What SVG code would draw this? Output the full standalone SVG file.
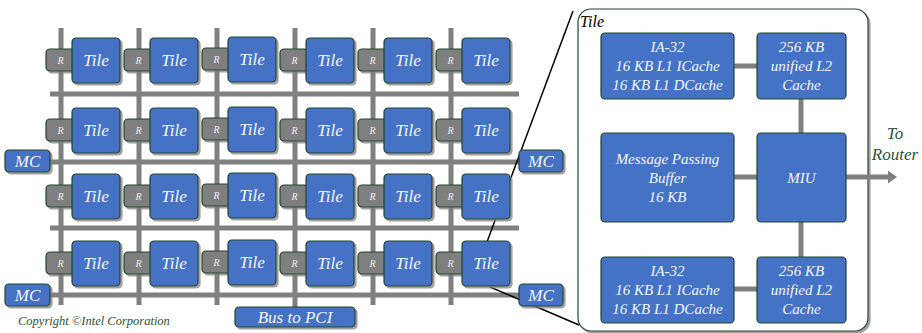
<svg xmlns="http://www.w3.org/2000/svg" width="922" height="333" viewBox="0 0 922 333" font-family="'Liberation Serif', 'Times New Roman', serif">
  <defs>
    <filter id="shadow" x="-15%" y="-15%" width="140%" height="140%">
      <feDropShadow dx="2" dy="2" stdDeviation="0.7" flood-color="#808080" flood-opacity="0.75"/>
    </filter>
    <marker id="arrowhead" markerUnits="userSpaceOnUse" markerWidth="10" markerHeight="14" refX="0" refY="6.5" orient="auto">
      <path d="M0,0 L9,6.5 L0,13 Z" fill="#808080"/>
    </marker>
  </defs>
  <style>
    .blue { fill: #4472c4; stroke: #22462e; stroke-width: 1.2; }
    .router { fill: #7f7f7f; stroke: #22462e; stroke-width: 1.2; }
    .shadowed { filter: url(#shadow); }
    .bar { stroke: #808080; stroke-width: 5; fill: none; }
    .zoom { stroke: #000; stroke-width: 1.5; fill: none; }
    .serif { font-family: "Liberation Serif", "Times New Roman", serif; font-style: italic; }
    .tl { font-size: 17px; fill: #f6f6f6; text-anchor: middle; }
    .rl { font-size: 10px; fill: #eeeeee; text-anchor: middle; }
    .bl { font-size: 15px; fill: #f6f6f6; text-anchor: middle; }
    .green { fill: #2c5237; }
  </style>

  <!-- detail panel of one tile -->
  <g id="tile-detail">
    <rect x="578" y="9" width="290" height="322" rx="13" fill="#fff" stroke="#22462e" stroke-width="1.2" class="shadowed"/>
    <text x="580" y="27" class="serif" font-size="16" fill="#000">Tile</text>
  </g>

  <!-- mesh buses, zoom lines and tile-internal links -->
  <g id="connectors">
    <g id="mesh-vertical">
      <line class="bar" x1="61" y1="28" x2="61" y2="305"/>
      <line class="bar" x1="139" y1="28" x2="139" y2="305"/>
      <line class="bar" x1="217" y1="28" x2="217" y2="305"/>
      <line class="bar" x1="295" y1="28" x2="295" y2="308"/>
      <line class="bar" x1="373" y1="28" x2="373" y2="305"/>
      <line class="bar" x1="451" y1="28" x2="451" y2="305"/>
    </g>
    <g id="mesh-horizontal">
      <line class="bar" x1="50" y1="94" x2="519" y2="94"/>
      <line class="bar" x1="50" y1="162" x2="520" y2="162"/>
      <line class="bar" x1="50" y1="228" x2="519" y2="228"/>
      <line class="bar" x1="50" y1="295" x2="520" y2="295"/>
    </g>
    <g id="zoom-lines">
      <line class="zoom" x1="573" y1="11" x2="487" y2="242"/>
      <line class="zoom" x1="490" y1="287" x2="579" y2="325"/>
    </g>
    <g id="tile-links">
      <line class="bar" x1="734" y1="66" x2="757" y2="66"/>
      <line class="bar" x1="801" y1="99" x2="801" y2="133"/>
      <line class="bar" x1="734" y1="177" x2="757" y2="177"/>
      <line class="bar" x1="801" y1="222" x2="801" y2="257"/>
      <line class="bar" x1="734" y1="289" x2="757" y2="289"/>
      <line class="bar" x1="846" y1="177" x2="888" y2="177" marker-end="url(#arrowhead)"/>
    </g>
  </g>

  <!-- mesh cells: router + tile -->
  <g id="mesh" class="serif">
    <!-- row 1 -->
    <g id="cell-1-1" transform="translate(46,38)"><g id="router-1-1"><rect class="router shadowed" x="0" y="11" width="29" height="22" rx="4"/><text class="rl" x="14.5" y="26">R</text></g><g id="tile-1-1"><rect class="blue shadowed" x="26" y="0" width="48" height="45" rx="4"/><text class="tl" x="50" y="28">Tile</text></g></g>
    <g id="cell-1-2" transform="translate(124,38)"><g id="router-1-2"><rect class="router shadowed" x="0" y="11" width="29" height="22" rx="4"/><text class="rl" x="14.5" y="26">R</text></g><g id="tile-1-2"><rect class="blue shadowed" x="26" y="0" width="48" height="45" rx="4"/><text class="tl" x="50" y="28">Tile</text></g></g>
    <g id="cell-1-3" transform="translate(202,37)"><g id="router-1-3"><rect class="router shadowed" x="0" y="11" width="29" height="22" rx="4"/><text class="rl" x="14.5" y="26">R</text></g><g id="tile-1-3"><rect class="blue shadowed" x="26" y="0" width="48" height="45" rx="4"/><text class="tl" x="50" y="28">Tile</text></g></g>
    <g id="cell-1-4" transform="translate(280,38)"><g id="router-1-4"><rect class="router shadowed" x="0" y="11" width="29" height="22" rx="4"/><text class="rl" x="14.5" y="26">R</text></g><g id="tile-1-4"><rect class="blue shadowed" x="26" y="0" width="48" height="45" rx="4"/><text class="tl" x="50" y="28">Tile</text></g></g>
    <g id="cell-1-5" transform="translate(358,38)"><g id="router-1-5"><rect class="router shadowed" x="0" y="11" width="29" height="22" rx="4"/><text class="rl" x="14.5" y="26">R</text></g><g id="tile-1-5"><rect class="blue shadowed" x="26" y="0" width="48" height="45" rx="4"/><text class="tl" x="50" y="28">Tile</text></g></g>
    <g id="cell-1-6" transform="translate(436,38)"><g id="router-1-6"><rect class="router shadowed" x="0" y="11" width="29" height="22" rx="4"/><text class="rl" x="14.5" y="26">R</text></g><g id="tile-1-6"><rect class="blue shadowed" x="26" y="0" width="48" height="45" rx="4"/><text class="tl" x="50" y="28">Tile</text></g></g>
    <!-- row 2 -->
    <g id="cell-2-1" transform="translate(46,108)"><g id="router-2-1"><rect class="router shadowed" x="0" y="11" width="29" height="22" rx="4"/><text class="rl" x="14.5" y="26">R</text></g><g id="tile-2-1"><rect class="blue shadowed" x="26" y="0" width="48" height="45" rx="4"/><text class="tl" x="50" y="28">Tile</text></g></g>
    <g id="cell-2-2" transform="translate(124,108)"><g id="router-2-2"><rect class="router shadowed" x="0" y="11" width="29" height="22" rx="4"/><text class="rl" x="14.5" y="26">R</text></g><g id="tile-2-2"><rect class="blue shadowed" x="26" y="0" width="48" height="45" rx="4"/><text class="tl" x="50" y="28">Tile</text></g></g>
    <g id="cell-2-3" transform="translate(202,107)"><g id="router-2-3"><rect class="router shadowed" x="0" y="11" width="29" height="22" rx="4"/><text class="rl" x="14.5" y="26">R</text></g><g id="tile-2-3"><rect class="blue shadowed" x="26" y="0" width="48" height="45" rx="4"/><text class="tl" x="50" y="28">Tile</text></g></g>
    <g id="cell-2-4" transform="translate(280,108)"><g id="router-2-4"><rect class="router shadowed" x="0" y="11" width="29" height="22" rx="4"/><text class="rl" x="14.5" y="26">R</text></g><g id="tile-2-4"><rect class="blue shadowed" x="26" y="0" width="48" height="45" rx="4"/><text class="tl" x="50" y="28">Tile</text></g></g>
    <g id="cell-2-5" transform="translate(358,108)"><g id="router-2-5"><rect class="router shadowed" x="0" y="11" width="29" height="22" rx="4"/><text class="rl" x="14.5" y="26">R</text></g><g id="tile-2-5"><rect class="blue shadowed" x="26" y="0" width="48" height="45" rx="4"/><text class="tl" x="50" y="28">Tile</text></g></g>
    <g id="cell-2-6" transform="translate(436,108)"><g id="router-2-6"><rect class="router shadowed" x="0" y="11" width="29" height="22" rx="4"/><text class="rl" x="14.5" y="26">R</text></g><g id="tile-2-6"><rect class="blue shadowed" x="26" y="0" width="48" height="45" rx="4"/><text class="tl" x="50" y="28">Tile</text></g></g>
    <!-- row 3 -->
    <g id="cell-3-1" transform="translate(46,174)"><g id="router-3-1"><rect class="router shadowed" x="0" y="11" width="29" height="22" rx="4"/><text class="rl" x="14.5" y="26">R</text></g><g id="tile-3-1"><rect class="blue shadowed" x="26" y="0" width="48" height="45" rx="4"/><text class="tl" x="50" y="28">Tile</text></g></g>
    <g id="cell-3-2" transform="translate(124,174)"><g id="router-3-2"><rect class="router shadowed" x="0" y="11" width="29" height="22" rx="4"/><text class="rl" x="14.5" y="26">R</text></g><g id="tile-3-2"><rect class="blue shadowed" x="26" y="0" width="48" height="45" rx="4"/><text class="tl" x="50" y="28">Tile</text></g></g>
    <g id="cell-3-3" transform="translate(202,173)"><g id="router-3-3"><rect class="router shadowed" x="0" y="11" width="29" height="22" rx="4"/><text class="rl" x="14.5" y="26">R</text></g><g id="tile-3-3"><rect class="blue shadowed" x="26" y="0" width="48" height="45" rx="4"/><text class="tl" x="50" y="28">Tile</text></g></g>
    <g id="cell-3-4" transform="translate(280,174)"><g id="router-3-4"><rect class="router shadowed" x="0" y="11" width="29" height="22" rx="4"/><text class="rl" x="14.5" y="26">R</text></g><g id="tile-3-4"><rect class="blue shadowed" x="26" y="0" width="48" height="45" rx="4"/><text class="tl" x="50" y="28">Tile</text></g></g>
    <g id="cell-3-5" transform="translate(358,174)"><g id="router-3-5"><rect class="router shadowed" x="0" y="11" width="29" height="22" rx="4"/><text class="rl" x="14.5" y="26">R</text></g><g id="tile-3-5"><rect class="blue shadowed" x="26" y="0" width="48" height="45" rx="4"/><text class="tl" x="50" y="28">Tile</text></g></g>
    <g id="cell-3-6" transform="translate(436,174)"><g id="router-3-6"><rect class="router shadowed" x="0" y="11" width="29" height="22" rx="4"/><text class="rl" x="14.5" y="26">R</text></g><g id="tile-3-6"><rect class="blue shadowed" x="26" y="0" width="48" height="45" rx="4"/><text class="tl" x="50" y="28">Tile</text></g></g>
    <!-- row 4 -->
    <g id="cell-4-1" transform="translate(46,241)"><g id="router-4-1"><rect class="router shadowed" x="0" y="11" width="29" height="22" rx="4"/><text class="rl" x="14.5" y="26">R</text></g><g id="tile-4-1"><rect class="blue shadowed" x="26" y="0" width="48" height="45" rx="4"/><text class="tl" x="50" y="28">Tile</text></g></g>
    <g id="cell-4-2" transform="translate(124,241)"><g id="router-4-2"><rect class="router shadowed" x="0" y="11" width="29" height="22" rx="4"/><text class="rl" x="14.5" y="26">R</text></g><g id="tile-4-2"><rect class="blue shadowed" x="26" y="0" width="48" height="45" rx="4"/><text class="tl" x="50" y="28">Tile</text></g></g>
    <g id="cell-4-3" transform="translate(202,240)"><g id="router-4-3"><rect class="router shadowed" x="0" y="11" width="29" height="22" rx="4"/><text class="rl" x="14.5" y="26">R</text></g><g id="tile-4-3"><rect class="blue shadowed" x="26" y="0" width="48" height="45" rx="4"/><text class="tl" x="50" y="28">Tile</text></g></g>
    <g id="cell-4-4" transform="translate(280,241)"><g id="router-4-4"><rect class="router shadowed" x="0" y="11" width="29" height="22" rx="4"/><text class="rl" x="14.5" y="26">R</text></g><g id="tile-4-4"><rect class="blue shadowed" x="26" y="0" width="48" height="45" rx="4"/><text class="tl" x="50" y="28">Tile</text></g></g>
    <g id="cell-4-5" transform="translate(358,241)"><g id="router-4-5"><rect class="router shadowed" x="0" y="11" width="29" height="22" rx="4"/><text class="rl" x="14.5" y="26">R</text></g><g id="tile-4-5"><rect class="blue shadowed" x="26" y="0" width="48" height="45" rx="4"/><text class="tl" x="50" y="28">Tile</text></g></g>
    <g id="cell-4-6" transform="translate(436,241)"><g id="router-4-6"><rect class="router shadowed" x="0" y="11" width="29" height="22" rx="4"/><text class="rl" x="14.5" y="26">R</text></g><g id="tile-4-6"><rect class="blue shadowed" x="26" y="0" width="48" height="45" rx="4"/><text class="tl" x="50" y="28">Tile</text></g></g>
  </g>

  <!-- memory controllers and I/O bus -->
  <g id="mc-left-top" class="serif"><rect class="blue shadowed" x="5" y="150" width="45" height="22" rx="4"/><text class="tl" x="27.5" y="167">MC</text></g>
  <g id="mc-left-bottom" class="serif"><rect class="blue shadowed" x="5" y="284" width="45" height="22" rx="4"/><text class="tl" x="27.5" y="301">MC</text></g>
  <g id="mc-right-top" class="serif"><rect class="blue shadowed" x="519" y="150" width="44" height="22" rx="4"/><text class="tl" x="541" y="167">MC</text></g>
  <g id="mc-right-bottom" class="serif"><rect class="blue shadowed" x="519" y="284" width="44" height="22" rx="4"/><text class="tl" x="541" y="301">MC</text></g>
  <g id="bus-pci" class="serif"><rect class="blue shadowed" x="235" y="307" width="120" height="20" rx="4"/><text class="tl" x="295" y="323">Bus to PCI</text></g>

  <!-- blocks inside the tile -->
  <g id="core-top" class="serif"><rect class="blue" x="601" y="33" width="133" height="66" rx="4"/><text class="bl" x="667.5" y="52">IA-32</text><text class="bl" x="667.5" y="71">16 KB L1 ICache</text><text class="bl" x="667.5" y="90">16 KB L1 DCache</text></g>
  <g id="l2-top" class="serif"><rect class="blue" x="757" y="33" width="89" height="66" rx="4"/><text class="bl" x="801.5" y="52">256 KB</text><text class="bl" x="801.5" y="71">unified L2</text><text class="bl" x="801.5" y="90">Cache</text></g>
  <g id="mpb" class="serif"><rect class="blue" x="601" y="133" width="133" height="89" rx="4"/><text class="bl" x="667.5" y="164">Message Passing</text><text class="bl" x="667.5" y="183">Buffer</text><text class="bl" x="667.5" y="202">16 KB</text></g>
  <g id="miu" class="serif"><rect class="blue" x="757" y="133" width="89" height="89" rx="4"/><text class="bl" x="801.5" y="183">MIU</text></g>
  <g id="core-bottom" class="serif"><rect class="blue" x="601" y="257" width="133" height="66" rx="4"/><text class="bl" x="667.5" y="276">IA-32</text><text class="bl" x="667.5" y="295">16 KB L1 ICache</text><text class="bl" x="667.5" y="314">16 KB L1 DCache</text></g>
  <g id="l2-bottom" class="serif"><rect class="blue" x="757" y="257" width="89" height="66" rx="4"/><text class="bl" x="801.5" y="276">256 KB</text><text class="bl" x="801.5" y="295">unified L2</text><text class="bl" x="801.5" y="314">Cache</text></g>

  <!-- free labels -->
  <g id="labels" class="serif">
    <text class="green" x="895" y="139" font-size="17" text-anchor="middle">To</text>
    <text class="green" x="895" y="160" font-size="17" text-anchor="middle">Router</text>
    <text class="green" x="18" y="325" font-size="12.5">Copyright ©Intel Corporation</text>
  </g>
</svg>
